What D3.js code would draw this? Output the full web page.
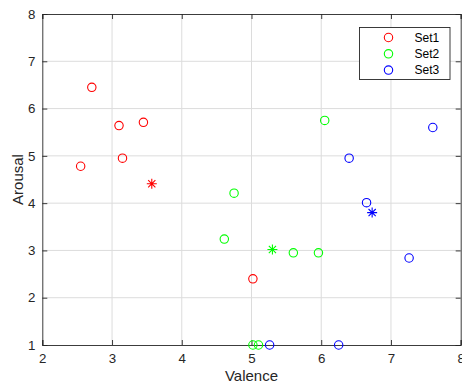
<!DOCTYPE html>
<html>
<head>
<meta charset="utf-8">
<script src="https://cdn.jsdelivr.net/npm/d3@7"></script>
<style>
  body { margin: 0; background: #fff; }
  text { font-family: "Liberation Sans", Arial, Helvetica, sans-serif; }
</style>
</head>
<body>
<script>
/* CONSTANTS AND GLOBALS */
const width = 462;
const height = 385;
const margin = { top: 14, bottom: 40, left: 42.3, right: 1.3 };

// DATA
const set1X = [2.71, 3.10, 3.45, 3.15, 2.55, 5.02];
const set1Y = [6.45, 5.64, 5.71, 4.95, 4.78, 2.40];
const set1Star = [3.57, 4.41];

const set2X = [4.75, 6.05, 4.61, 5.60, 5.96, 5.02, 5.10];
const set2Y = [4.21, 5.75, 3.24, 2.95, 2.95, 1, 1];
const set2Star = [5.30, 3.02];

const set3X = [7.60, 6.40, 6.65, 7.26, 5.26, 6.25];
const set3Y = [5.60, 4.95, 4.01, 2.84, 1, 1];
const set3Star = [6.73, 3.80];

const xTicks = [2, 3, 4, 5, 6, 7, 8];
const yTicks = [1, 2, 3, 4, 5, 6, 7, 8];
const seriesNames = ["Set1", "Set2", "Set3"];
const seriesColors = ["#ff0000", "#00ff00", "#0000ff"];

const series = [
  { name: seriesNames[0], xs: set1X, ys: set1Y, star: set1Star, color: seriesColors[0] },
  { name: seriesNames[1], xs: set2X, ys: set2Y, star: set2Star, color: seriesColors[1] },
  { name: seriesNames[2], xs: set3X, ys: set3Y, star: set3Star, color: seriesColors[2] }
];

const axisColor = "#262626";
const starPath = "M-5,0H5M0,-5V5M-3.6,-3.6L3.6,3.6M-3.6,3.6L3.6,-3.6";

//SCALES
const x = d3.scaleLinear()
  .domain([2, 8])
  .range([margin.left, width - margin.right]);

const y = d3.scaleLinear()
  .domain([1, 8])
  .range([height - margin.bottom, margin.top]);

//CREATE SVG
const svg = d3.select("body").append("svg")
  .attr("width", width)
  .attr("height", height);

svg.append("rect").attr("width", width).attr("height", height).attr("fill", "#fff");

//GRID
const grid = svg.append("g").attr("stroke", "#dcdcdc").attr("stroke-width", 1);
grid.selectAll(".gx").data(xTicks.slice(1, -1)).enter().append("line")
  .attr("x1", d => x(d)).attr("x2", d => x(d))
  .attr("y1", y(1)).attr("y2", y(8));
grid.selectAll(".gy").data(yTicks.slice(1, -1)).enter().append("line")
  .attr("x1", x(2)).attr("x2", x(8))
  .attr("y1", d => y(d)).attr("y2", d => y(d));

//AXES (ticks pointing inward, like MATLAB)
const xAxis = d3.axisBottom(x).tickValues(xTicks).tickSize(-5).tickPadding(9).tickFormat(d3.format("d"));
const yAxis = d3.axisLeft(y).tickValues(yTicks).tickSize(-5).tickPadding(7).tickFormat(d3.format("d"));
const xTop = d3.axisTop(x).tickValues(xTicks).tickSize(-5).tickFormat("");
const yRight = d3.axisRight(y).tickValues(yTicks).tickSize(-5).tickFormat("");

function styleAxis(g) {
  g.selectAll(".domain").attr("stroke", axisColor).attr("stroke-width", 0.9);
  g.selectAll(".tick line").attr("stroke", axisColor).attr("stroke-width", 0.9);
  g.selectAll(".tick text")
    .attr("fill", axisColor)
    .attr("font-size", 13.3)
    .attr("font-family", "Liberation Sans, Arial, sans-serif");
}

svg.append("g").attr("transform", `translate(0,${y(1)})`).call(xAxis).call(styleAxis);
svg.append("g").attr("transform", `translate(${x(2)},0)`).call(yAxis).call(styleAxis);
svg.append("g").attr("transform", `translate(0,${y(8)})`).call(xTop).call(styleAxis);
svg.append("g").attr("transform", `translate(${x(8)},0)`).call(yRight).call(styleAxis);

//AXIS LABELS
svg.append("text")
  .attr("x", (x(2) + x(8)) / 2)
  .attr("y", 381)
  .attr("text-anchor", "middle")
  .attr("font-size", 15)
  .attr("fill", axisColor)
  .text("Valence");

svg.append("text")
  .attr("transform", `translate(23,${(y(1) + y(8)) / 2}) rotate(-90)`)
  .attr("text-anchor", "middle")
  .attr("font-size", 15)
  .attr("fill", axisColor)
  .text("Arousal");

//POINTS
series.forEach(s => {
  svg.append("g").selectAll("circle")
    .data(d3.zip(s.xs, s.ys))
    .enter().append("circle")
    .attr("cx", d => x(d[0]))
    .attr("cy", d => y(d[1]))
    .attr("r", 4.2)
    .attr("fill", "none")
    .attr("stroke", s.color)
    .attr("stroke-width", 1.1);

  svg.append("path")
    .attr("transform", `translate(${x(s.star[0])},${y(s.star[1])})`)
    .attr("d", starPath)
    .attr("fill", "none")
    .attr("stroke", s.color)
    .attr("stroke-width", 1.1);
});

//LEGEND
const legend = svg.append("g").attr("transform", "translate(359.5,27.5)");
legend.append("rect")
  .attr("width", 90.5).attr("height", 52)
  .attr("fill", "#fff")
  .attr("stroke", axisColor).attr("stroke-width", 0.9);

const rows = legend.selectAll(".row")
  .data(series)
  .enter().append("g")
  .attr("transform", (d, i) => `translate(0,${10 + i * 16.3})`);

rows.append("circle")
  .attr("cx", 29).attr("r", 4.2)
  .attr("fill", "none")
  .attr("stroke", d => d.color)
  .attr("stroke-width", 1.1);

rows.append("text")
  .attr("x", 55).attr("dy", "0.36em")
  .attr("font-size", 12)
  .attr("fill", "#000")
  .text(d => d.name);

// the figure is cropped at the top
svg.append("rect").attr("width", width).attr("height", 9.5).attr("fill", "#fff");
</script>
</body>
</html>
